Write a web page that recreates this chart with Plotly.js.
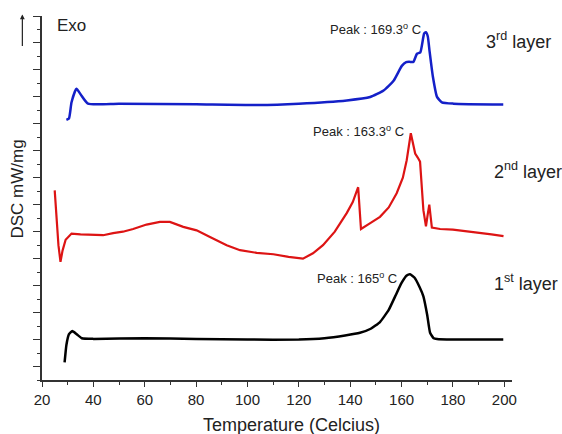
<!DOCTYPE html>
<html>
<head>
<meta charset="utf-8">
<script src="https://cdn.plot.ly/plotly-3.0.1.min.js"></script>
<style>html,body{margin:0;padding:0;background:#fff;}#chart{width:562px;height:434px;}</style>
</head>
<body>
<div id="chart"></div>
<script>
// 1st layer (black)
var tLayer1 = [28.8, 29.5, 30.5, 31.8, 33.5, 35.5, 40, 60, 80, 100, 120, 130, 138, 143.8, 148, 151.6, 155, 157.5, 160, 162, 163.3, 165, 167, 168.5, 170, 171.1, 172.5, 173.8, 180, 199.6];
var dscLayer1 = [1.3, 2.6, 3.4, 3.63, 3.4, 3.1, 3.05, 3.1, 3.05, 3.0, 3.0, 3.1, 3.3, 3.5, 3.8, 4.3, 5.2, 6.2, 7.2, 7.75, 7.85, 7.6, 6.9, 6.2, 4.8, 3.5, 3.1, 3.04, 3.0, 3.0];
// 2nd layer (red)
var tLayer2 = [24.95, 25.6, 26.4, 27.2, 28.0, 29.2, 31.5, 35, 38.6, 43.8, 47.7, 51.5, 55.5, 60.7, 65.9, 69.8, 75, 80.2, 85.4, 91.9, 97.1, 103.6, 110.1, 116, 121.6, 125.5, 129.4, 134, 138.7, 141, 143.1, 144.2, 147.5, 151.6, 155, 158.1, 160.5, 162, 163.6, 164.4, 165.3, 166.3, 167.2, 168.5, 169.5, 170.2, 170.8, 171.8, 175, 180, 185, 190.6, 195, 199.7];
var dscLayer2 = [14.07, 12.2, 10.0, 8.76, 9.6, 10.4, 10.86, 10.8, 10.79, 10.74, 10.9, 11.0, 11.2, 11.53, 11.73, 11.73, 11.36, 11.1, 10.6, 10.0, 9.63, 9.43, 9.33, 9.13, 9.0, 9.4, 10.0, 11.0, 12.4, 13.2, 14.3, 11.2, 11.6, 12.1, 12.8, 13.85, 15.0, 16.3, 18.3, 17.6, 16.8, 16.5, 16.2, 12.6, 11.4, 12.3, 13.0, 11.3, 11.2, 11.15, 11.05, 10.9, 10.8, 10.67];
// 3rd layer (blue)
var tLayer3 = [29.5, 30.5, 31.5, 33.4, 35, 37.9, 50, 80, 104, 120, 138.7, 147.8, 153, 156.9, 160.1, 161.8, 163, 164.6, 166, 167.3, 168.8, 169.5, 170.2, 170.9, 172.2, 173.8, 175.7, 180.2, 199.6];
var dscLayer3 = [19.3, 19.4, 20.6, 21.6, 21.2, 20.5, 20.5, 20.45, 20.4, 20.5, 20.74, 20.99, 21.48, 22.2, 23.3, 23.58, 23.6, 23.6, 24.2, 24.3, 25.7, 25.8, 25.5, 24.4, 22.5, 21.0, 20.6, 20.5, 20.44];

var xTickVals = [20, 40, 60, 80, 100, 120, 140, 160, 180, 200];
var xTickText = ['20', '40', '60', '80', '100', '120', '140', '160', '180', '200'];
var layerLabels = ['1<sup>st</sup> layer', '2<sup>nd</sup> layer', '3<sup>rd</sup> layer'];
var peakLabels = ['Peak : 165<sup>o</sup> C', 'Peak : 163.3<sup>o</sup> C', 'Peak : 169.3<sup>o</sup> C'];

var FONT = 'Liberation Sans, Arial, sans-serif';
var traces = [
  {x: tLayer1, y: dscLayer1, mode: 'lines', line: {color: '#000000', width: 2.5, shape: 'spline', smoothing: 0.4}},
  {x: tLayer2, y: dscLayer2, mode: 'lines', line: {color: '#dd1414', width: 2.2}},
  {x: tLayer3, y: dscLayer3, mode: 'lines', line: {color: '#1420c8', width: 2.5, shape: 'spline', smoothing: 0.5}}
];

var layout = {
  width: 562, height: 434,
  margin: {l: 42.3, r: 50.3, t: 15.5, b: 54},
  paper_bgcolor: '#ffffff', plot_bgcolor: '#ffffff',
  showlegend: false,
  font: {family: FONT, color: '#222'},
  xaxis: {
    range: [20, 203], showgrid: false, zeroline: false,
    showline: true, linecolor: '#333', linewidth: 1.5,
    ticks: 'outside', ticklen: 5, tickwidth: 1.2, tickcolor: '#333',
    tickmode: 'array', tickvals: xTickVals, ticktext: xTickText,
    tickfont: {size: 15, color: '#222'},
    minor: {dtick: 10, tick0: 0, ticks: 'outside', ticklen: 3, tickwidth: 1.2, tickcolor: '#333', showgrid: false}
  },
  yaxis: {
    range: [0, 27], showgrid: false, zeroline: false,
    showline: true, linecolor: '#333', linewidth: 1.5,
    ticks: 'outside', ticklen: 7, tickwidth: 1.2, tickcolor: '#333',
    tick0: 1, dtick: 2, showticklabels: false,
    minor: {dtick: 1, tick0: 0, ticks: 'outside', ticklen: 3.5, tickwidth: 1.2, tickcolor: '#333', showgrid: false}
  },
  annotations: [
    {xref: 'paper', yref: 'paper', x: 0.53, y: -0.1235, text: 'Temperature (Celcius)', showarrow: false, xanchor: 'center', yanchor: 'middle', font: {size: 18, color: '#222', family: FONT}},
    {xref: 'paper', yref: 'paper', x: -0.0518, y: 0.525, text: 'DSC mW/mg', textangle: -90, showarrow: false, xanchor: 'center', yanchor: 'middle', font: {size: 17, color: '#222', family: FONT}},
    {xref: 'paper', yref: 'paper', x: 0.027, y: 0.974, text: 'Exo', showarrow: false, xanchor: 'left', yanchor: 'middle', font: {size: 17, color: '#222', family: FONT}},
    {xref: 'paper', yref: 'paper', x: -0.0418, y: 1.004, text: '', showarrow: true, ax: 0, ay: 33, arrowhead: 2, arrowsize: 0.8, arrowwidth: 1.2, arrowcolor: '#222'},
    {xref: 'paper', yref: 'y', x: 0.9575, y: 7.26, text: layerLabels[0], showarrow: false, xanchor: 'left', yanchor: 'middle', font: {size: 18, color: '#222', family: FONT}},
    {xref: 'paper', yref: 'y', x: 0.9575, y: 15.56, text: layerLabels[1], showarrow: false, xanchor: 'left', yanchor: 'middle', font: {size: 18, color: '#222', family: FONT}},
    {xref: 'paper', yref: 'y', x: 0.9405, y: 25.2, text: layerLabels[2], showarrow: false, xanchor: 'left', yanchor: 'middle', font: {size: 18, color: '#222', family: FONT}},
    {x: 158.9, y: 7.56, text: peakLabels[0], showarrow: false, xanchor: 'right', yanchor: 'middle', font: {size: 13, color: '#222', family: FONT}},
    {x: 161.6, y: 18.5, text: peakLabels[1], showarrow: false, xanchor: 'right', yanchor: 'middle', font: {size: 13, color: '#222', family: FONT}},
    {x: 168.2, y: 26.07, text: peakLabels[2], showarrow: false, xanchor: 'right', yanchor: 'middle', font: {size: 13, color: '#222', family: FONT}}
  ]
};

Plotly.newPlot('chart', traces, layout, {displayModeBar: false});
</script>
</body>
</html>
